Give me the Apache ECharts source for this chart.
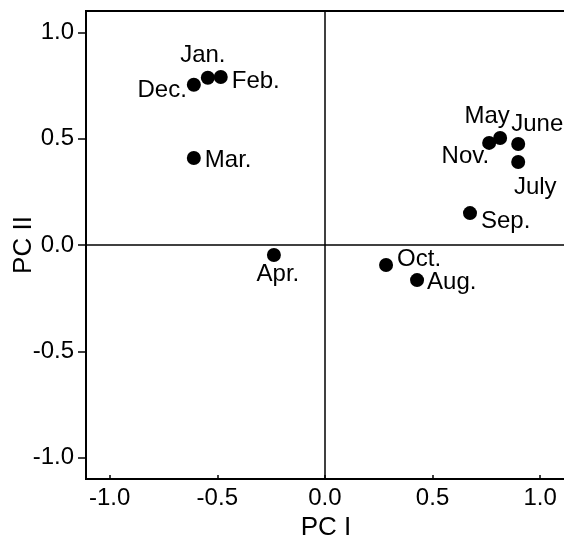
<!DOCTYPE html>
<html>
<head>
<meta charset="utf-8">
<script src="https://cdn.jsdelivr.net/npm/echarts@6/dist/echarts.min.js"></script>
<style>html,body{margin:0;padding:0;background:#fff}#c{width:564px;height:540px}</style>
</head>
<body>
<div id="c"></div>
<script>
const months = ['Jan.','Feb.','Mar.','Apr.','May','June','July','Aug.','Sep.','Oct.','Nov.','Dec.'];
const pc1 = [-0.544,-0.484,-0.609,-0.237,0.814,0.898,0.898,0.428,0.674,0.284,0.763,-0.609];
const pc2 = [0.786,0.790,0.409,-0.047,0.503,0.475,0.390,-0.165,0.150,-0.094,0.480,0.753];
const xTicks = [-1.0,-0.5,0.0,0.5,1.0];
const yTicks = [-1.0,-0.5,0.0,0.5,1.0];

// label placement (style only)
const labelStyle = {
  'Jan.': {position:'top', distance:3, offset:[-5,0]},
  'Feb.': {position:'right', distance:4, offset:[0,4]},
  'Mar.': {position:'right', distance:4, offset:[0,2]},
  'Apr.': {position:'bottom', distance:0, offset:[4,0]},
  'May': {position:'top', distance:3, offset:[-13,0]},
  'June': {position:'top', distance:1, offset:[19,0]},
  'July': {position:'bottom', distance:6, offset:[17,0]},
  'Aug.': {position:'right', distance:3, offset:[0,2]},
  'Sep.': {position:'right', distance:4, offset:[0,8]},
  'Oct.': {position:'right', distance:4, offset:[0,-6]},
  'Nov.': {position:'left', distance:0, offset:[7,13]},
  'Dec.': {position:'left', distance:0, offset:[0,6]}
};

const font = 'Liberation Sans, Arial, sans-serif';
const data = months.map((m,i)=>({
  value:[pc1[i],pc2[i]],
  name:m,
  label:Object.assign({show:true, formatter:m, color:'#000', fontSize:24, fontFamily:font}, labelStyle[m])
}));

const chart = echarts.init(document.getElementById('c'), null, {renderer:'canvas'});
chart.setOption({
  animation:false,
  backgroundColor:'#fff',
  grid:{left:86, top:11, width:480, height:468, show:true, borderColor:'#000', borderWidth:2,
    backgroundColor:'transparent', containLabel:false, outerBoundsMode:'none'},
  xAxis:{
    type:'value', min:-1.11, max:1.12, interval:0.5,
    name:'PC I', nameLocation:'middle', nameGap:36, nameMoveOverlap:false,
    nameTextStyle:{fontSize:26, color:'#000', fontFamily:font},
    axisLine:{show:true, onZero:false, lineStyle:{color:'#000', width:2}},
    axisTick:{show:true, inside:true, length:4, lineStyle:{color:'#000', width:1.5}, customValues:xTicks},
    axisLabel:{color:'#000', fontSize:24, fontFamily:font, margin:7, customValues:xTicks,
      formatter:v=>v.toFixed(1)},
    splitLine:{show:false}
  },
  yAxis:{
    type:'value', min:-1.1, max:1.1, interval:0.5,
    name:'PC II', nameLocation:'middle', nameGap:49, nameRotate:90, nameMoveOverlap:false,
    nameTextStyle:{fontSize:26, color:'#000', fontFamily:font},
    axisLine:{show:true, onZero:false, lineStyle:{color:'#000', width:2}},
    axisTick:{show:true, inside:false, length:8, lineStyle:{color:'#000', width:1.5}, customValues:yTicks},
    axisLabel:{color:'#000', fontSize:24, fontFamily:font, margin:12, customValues:yTicks,
      formatter:v=>v.toFixed(1)},
    splitLine:{show:false}
  },
  series:[{
    type:'scatter',
    symbol:'circle',
    symbolSize:14,
    itemStyle:{color:'#000', opacity:1},
    emphasis:{disabled:true},
    data:data,
    markLine:{
      silent:true, symbol:'none',
      label:{show:false},
      lineStyle:{color:'#000', width:1.5, type:'solid', opacity:1},
      data:[{xAxis:0},{yAxis:0}]
    }
  }]
});
</script>
</body>
</html>
